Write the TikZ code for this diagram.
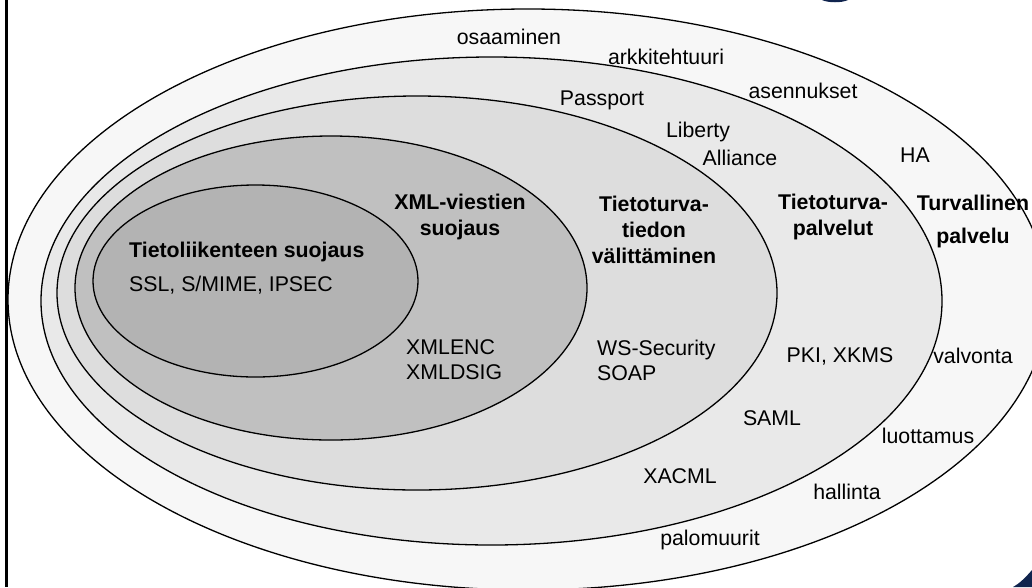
\documentclass[tikz,border=0pt]{standalone}
\usepackage{fontspec}
\setmainfont{Liberation Sans}
\usetikzlibrary{positioning}
\definecolor{ringOuter}{RGB}{247, 247, 247}
\definecolor{ringServ}{RGB}{233, 233, 233}
\definecolor{ringInfo}{RGB}{221, 221, 221}
\definecolor{ringXml}{RGB}{192, 192, 192}
\definecolor{ringNet}{RGB}{179, 179, 179}
\definecolor{slideNavy}{RGB}{16, 36, 78}

\begin{document}
\begin{tikzpicture}[x=1pt, y=-1pt,
    every node/.style={inner sep=0pt, font=\fontsize{21.3}{26}\selectfont},
    ring/.style={draw=black, line width=1.3pt},
    head/.style={font=\fontsize{21.3}{26}\selectfont\bfseries, align=center},
    items/.style={align=left, anchor=west, font=\fontsize{21.3}{25}\selectfont}]
    \useasboundingbox (0,0) rectangle (1032,587);
    \clip (0,0) rectangle (1032,587);
    % nested rings, outermost first
    \draw[ring, fill=ringOuter] (528,299.5) ellipse [x radius=520, y radius=290.5];
    \draw[ring, fill=ringServ] (491.5,301) ellipse [x radius=450.5, y radius=244];
    \draw[ring, fill=ringInfo] (417,293) ellipse [x radius=360, y radius=197];
    \draw[ring, fill=ringXml] (331,288) ellipse [x radius=256, y radius=152];
    \draw[ring, fill=ringNet] (255.5,281) ellipse [x radius=162.5, y radius=96];
    % slide frame bits
    \draw[line width=2.5pt] (6.5,0) -- (6.5,587);
    \fill[slideNavy] (1032,570) .. controls (1025,578) and (1020,583) .. (1013,587) -- (1032,587) -- cycle;
    \fill[slideNavy] (822,0) .. controls (828,3) and (842,3) .. (848,0) -- cycle;

    % outer ring: Turvallinen palvelu
    \node (osaaminen) at (509,37) {osaaminen};
    \node (arkkitehtuuri) at (666,57) {arkkitehtuuri};
    \node (asennukset) at (803,91) {asennukset};
    \node (ha) at (915,155) {HA};
    \node[head, font=\fontsize{21.3}{33}\selectfont\bfseries] (turvallinen) at (973,221) {Turvallinen\\palvelu};
    \node (valvonta) at (973,356) {valvonta};
    \node (luottamus) at (928,436) {luottamus};
    \node (hallinta) at (847,492) {hallinta};
    \node (palomuurit) at (710,540) {palomuurit};

    % Tietoturvapalvelut
    \node (passport) at (602,100) {Passport};
    \node (liberty) at (698,132) {Liberty};
    \node (alliance) at (740,158) {Alliance};
    \node[head] (palvelut) at (833,217) {Tietoturva-\\palvelut};
    \node (pki) at (840,356) {PKI, XKMS};
    \node (saml) at (772,418) {SAML};
    \node (xacml) at (680,476) {XACML};

    % Tietoturvatiedon valittaminen
    \node[head] (valitys) at (654,230) {Tietoturva-\\tiedon\\välittäminen};
    \node[items] (wssec) at (597,360) {WS-Security\\SOAP};

    % XML-viestien suojaus
    \node[head] (xmlsuoj) at (460,217) {XML-viestien\\suojaus};
    \node[items] (xmlenc) at (406,360) {XMLENC\\XMLDSIG};

    % Tietoliikenteen suojaus
    \node[anchor=west, font=\fontsize{21.3}{26}\selectfont\bfseries] (liikenne) at (129,252) {Tietoliikenteen suojaus};
    \node[anchor=west] (ssl) at (129,285) {SSL, S/MIME, IPSEC};
\end{tikzpicture}
\end{document}
